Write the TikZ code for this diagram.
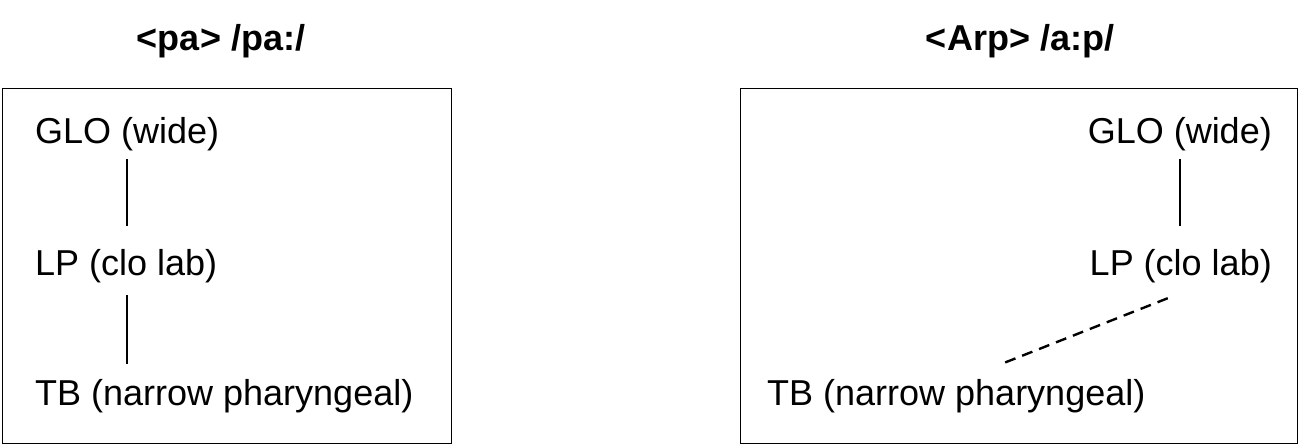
\documentclass[tikz,border=0pt]{standalone}
\usepackage{fontspec}
\setmainfont{Liberation Sans}
\begin{document}
\begin{tikzpicture}[x=1pt,y=-1pt,
  lbl/.style={inner sep=0pt,text height=26pt,text depth=8pt,font=\fontsize{36}{43}\selectfont},
  ttl/.style={inner sep=0pt,font=\fontsize{36}{43}\selectfont\bfseries},
  frame/.style={draw=black,line width=1.3pt},
  link/.style={line width=2.2pt},
  dlink/.style={line width=2.4pt,dash pattern=on 11pt off 7.2pt}]
\useasboundingbox (0,0) rectangle (1300,447);
% titles
\node[ttl,anchor=base] (t1) at (221,50) {<pa> /pa:/};
\node[ttl,anchor=base] (t2) at (1020,50) {<Arp> /a:p/};
% boxes
\node[frame,minimum width=449pt,minimum height=355pt,inner sep=0pt,anchor=north west] (b1) at (2,88) {};
\node[frame,minimum width=557pt,minimum height=355pt,inner sep=0pt,anchor=north west] (b2) at (740,88) {};
% left box
\node[lbl,anchor=base west] (glo1) at (35,143) {GLO (wide)};
\node[lbl,anchor=base west] (lp1) at (35,275) {LP (clo lab)};
\node[lbl,anchor=base west] (tb1) at (35,405) {TB (narrow pharyngeal)};
\draw[link,shorten <=8pt,shorten >=23pt] (glo1.south) -- (glo1.south |- lp1.north);
\draw[link,shorten <=12pt,shorten >=15pt] (glo1.south |- lp1.south) -- (glo1.south |- tb1.north);
% right box
\node[lbl,anchor=base east] (glo2) at (1272,143) {GLO (wide)};
\node[lbl,anchor=base east] (lp2) at (1272,275) {LP (clo lab)};
\node[lbl,anchor=base west] (tb2) at (767,405) {TB (narrow pharyngeal)};
\draw[link,shorten <=8pt,shorten >=23pt] (glo2.south) -- (glo2.south |- lp2.north);
\draw[dlink] ([xshift=-13pt,yshift=-15pt]lp2.south) -- ([xshift=48pt,yshift=16pt]tb2.north);
\end{tikzpicture}
\end{document}
